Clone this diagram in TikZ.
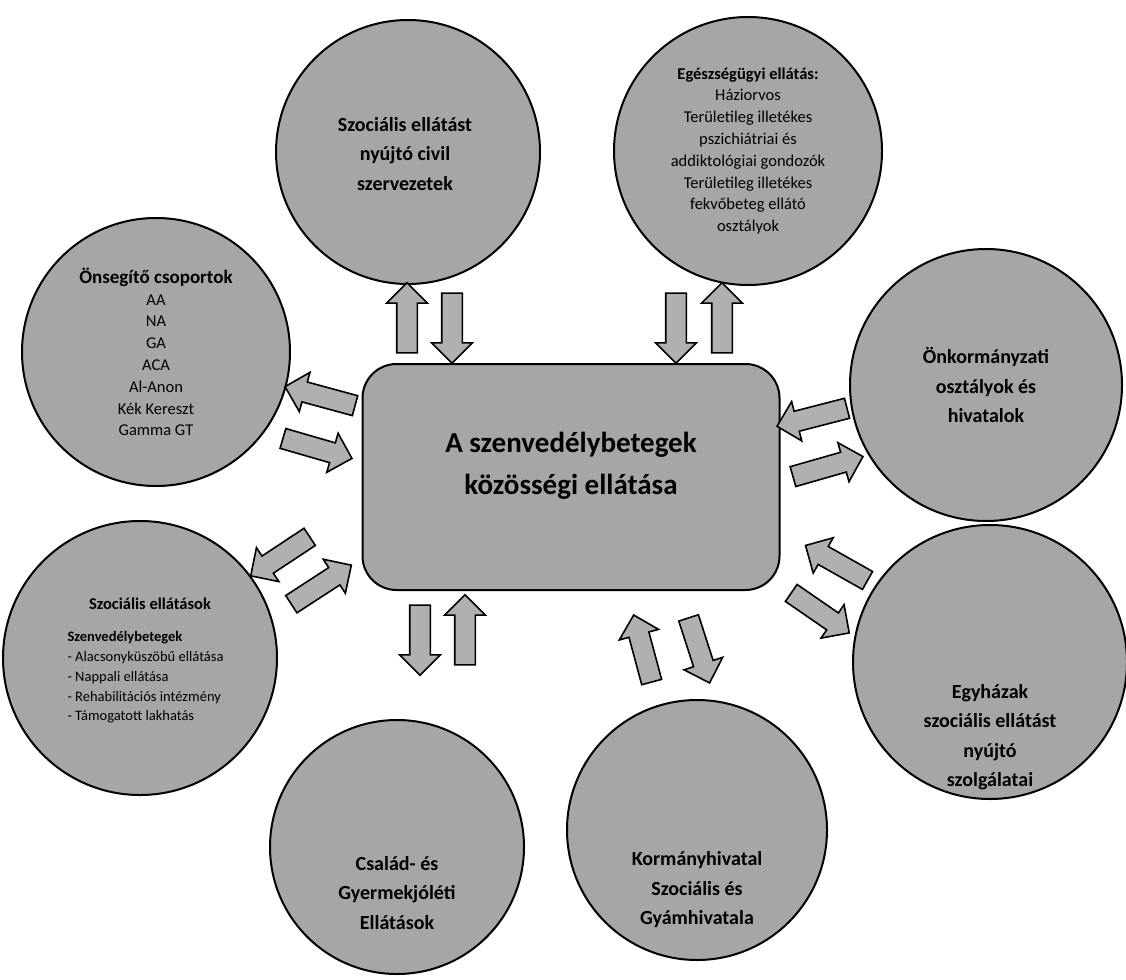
\documentclass[tikz,border=0pt]{standalone}
\usepackage{fontspec}
\setmainfont{Carlito}
\usetikzlibrary{shapes.arrows,calc}

\tikzset{
  blob/.style={circle, draw=black, line width=2pt, fill=gray!70, inner sep=0pt,
    minimum size=#1, align=center},
  bigtext/.style={align=center, font=\bfseries\fontsize{20}{29.5}\selectfont},
  listtext/.style={font=\fontsize{16.5}{21.8}\selectfont},
  hub/.style={rectangle, rounded corners=34pt, draw=black, line width=2pt, fill=gray!70,
    minimum width=417pt, minimum height=226pt},
  hubtext/.style={align=center, font=\bfseries\fontsize{29}{42}\selectfont},
  flowarrow/.style={single arrow, draw=black, line width=1.6pt, fill=gray!62,
    inner xsep=0pt, inner ysep=9.5pt, single arrow head extend=10pt,
    single arrow head indent=0pt, anchor=center}
}

% block arrow from tail #1 to head #2
\newcommand{\bigflow}[2]{%
  \path let \p1=(#1), \p2=(#2), \n1={atan2(\y2-\y1,\x2-\x1)},
    \n2={veclen(\x2-\x1,\y2-\y1)} in
    node[flowarrow, minimum height=\n2, rotate=\n1] at ($(#1)!0.5!(#2)$) {};}

\begin{document}
\begin{tikzpicture}[x=1pt, y=-1pt]
  \useasboundingbox (0,0) rectangle (1126,979);

  % centre
  \node[hub] (hub) at (571,477) {};
  \node[hubtext] (hubT) at ([yshift=11pt]hub.center)
    {A szenvedélybetegek\\közösségi ellátása};

  % partners
  \node[blob=264pt] (civil) at (408,152) {};
  \node[bigtext] (civilT) at (405,154)
    {Szociális ellátást\\nyújtó civil\\szervezetek};
  \node[blob=268pt, listtext] (health) at (748,151)
    {{\bfseries Egészségügyi ellátás:}\\Háziorvos\\
     Területileg illetékes\\pszichiátriai és\\addiktológiai gondozók\\
     Területileg illetékes\\fekvőbeteg ellátó\\osztályok};
  \node[blob=268pt, listtext] (selfhelp) at (156,352)
    {{\bfseries\fontsize{19}{24}\selectfont Önsegítő csoportok}\\AA\\NA\\GA\\ACA\\
     Al-Anon\\Kék Kereszt\\Gamma GT};
  \node[blob=272pt, bigtext] (council) at (986,385)
    {Önkormányzati\\osztályok és\\hivatalok};
  \node[blob=274pt] (social) at (140,658) {};
  \node[font=\bfseries\fontsize{16.5}{20}\selectfont] (socialT) at (150,604)
    {Szociális ellátások};
  \node[font=\fontsize{14.5}{19.8}\selectfont, align=left, anchor=north west]
    (socialL) at (64,628)
    {{\bfseries Szenvedélybetegek}\\- Alacsonyküszöbű ellátása\\- Nappali ellátása\\
     - Rehabilitációs intézmény\\- Támogatott lakhatás};
  \node[blob=254pt] (family) at (397,847) {};
  \node[bigtext] (familyT) at ([yshift=-46pt]family.center)
    {Család- és\\Gyermekjóléti\\Ellátások};
  \node[blob=260pt] (office) at (697,830) {};
  \node[bigtext] (officeT) at ([yshift=-60pt]office.center)
    {Kormányhivatal\\Szociális és\\Gyámhivatala};
  \node[blob=274pt] (church) at (990,662) {};
  \node[bigtext] (churchT) at ([yshift=-75pt]church.center)
    {Egyházak\\szociális ellátást\\nyújtó\\szolgálatai};

  % arrow ends
  \coordinate (c1) at (407,358); \coordinate (c2) at (407,288);
  \coordinate (c3) at (452,288); \coordinate (c4) at (452,358);
  \coordinate (h1) at (676,288); \coordinate (h2) at (676,358);
  \coordinate (h3) at (722,358); \coordinate (h4) at (722,288);
  \coordinate (s1) at (360,407); \coordinate (s2) at (290,388);
  \coordinate (s3) at (278,437); \coordinate (s4) at (347,457);
  \coordinate (k1) at (852,407); \coordinate (k2) at (782,425);
  \coordinate (k3) at (788,478); \coordinate (k4) at (858,458);
  \coordinate (e1) at (314,534); \coordinate (e2) at (255,573);
  \coordinate (e3) at (287,607); \coordinate (e4) at (347,568);
  \coordinate (g1) at (872,583); \coordinate (g2) at (810,548);
  \coordinate (g3) at (787,590); \coordinate (g4) at (845,630);
  \coordinate (o1) at (653,687); \coordinate (o2) at (635,620);
  \coordinate (o3) at (687,613); \coordinate (o4) at (708,678);
  \coordinate (f1) at (420,600); \coordinate (f2) at (420,670);
  \coordinate (f3) at (465,670); \coordinate (f4) at (465,600);

  \foreach \a/\b in {c1/c2,c3/c4,h1/h2,h3/h4,s1/s2,s3/s4,k1/k2,k3/k4,
                     e1/e2,e3/e4,g1/g2,g3/g4,o1/o2,o3/o4,f1/f2,f3/f4}
    {\bigflow{\a}{\b}}
\end{tikzpicture}
\end{document}
